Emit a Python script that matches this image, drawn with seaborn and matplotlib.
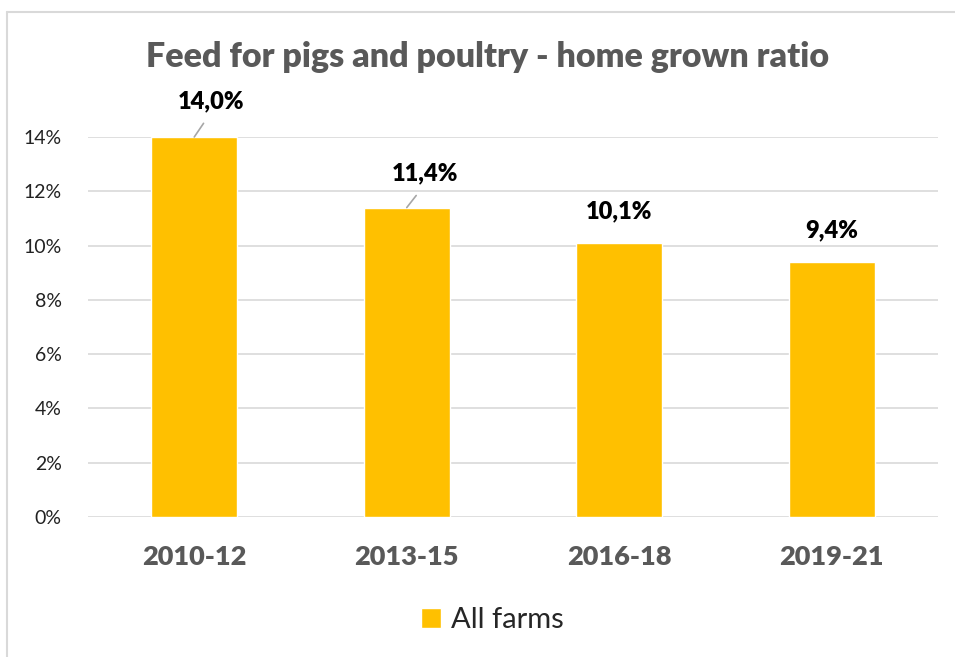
import matplotlib
matplotlib.use('Agg')
import matplotlib.pyplot as plt
import seaborn as sns
import pandas as pd
from matplotlib.lines import Line2D
from matplotlib.ticker import PercentFormatter

periods = ['2010-12', '2013-15', '2016-18', '2019-21']
home_grown = [14.0, 11.4, 10.1, 9.4]
series_name = 'All farms'
title = 'Feed for pigs and poultry - home grown ratio'

YELLOW = '#FFC000'
GRAY = '#595959'

sns.set_theme(style='white')
plt.rcParams['font.family'] = ['Lato', 'DejaVu Sans']

df = pd.DataFrame({'period': periods, 'ratio': home_grown})

fig = plt.figure(figsize=(9.55, 6.57), dpi=100)
ax = fig.add_axes([88 / 955, 1 - 517 / 657, 850 / 955, 380 / 657])

sns.barplot(data=df, x='period', y='ratio', color=YELLOW, width=0.405,
            saturation=1, label=series_name, ax=ax)
handles, labels = ax.get_legend_handles_labels()
if ax.get_legend() is not None:
    ax.get_legend().remove()

ax.set_ylim(0, 14)
ax.set_xlim(-0.5, len(periods) - 0.5)
ax.set_yticks(range(0, 15, 2))
ax.yaxis.set_major_formatter(PercentFormatter(decimals=0))
ax.yaxis.grid(True, color='#D9D9D9', linewidth=1.2)
ax.set_axisbelow(True)
for s in ax.spines.values():
    s.set_visible(False)
ax.set_xlabel('')
ax.set_ylabel('')
ax.tick_params(axis='y', labelsize=14, labelcolor='#222222', pad=19, length=0)
ax.tick_params(axis='x', labelsize=19.5, labelcolor=GRAY, pad=20, length=0)
for lbl in ax.get_xticklabels():
    lbl.set_fontweight('heavy')

# data labels (first two sit off to the side with leader lines)
offsets = [(17, 25), (18, 23), (0, 21), (0, 21)]
for i, v in enumerate(home_grown):
    dx, dy = offsets[i]
    txt = f'{v:.1f}%'.replace('.', ',')
    arrow = None
    if dx:
        arrow = dict(arrowstyle='-', color='#A6A6A6', lw=1.2,
                     shrinkA=7, shrinkB=0, relpos=(0.5, 0))
    ax.annotate(txt, xy=(i, v), xytext=(dx, dy), textcoords='offset pixels',
                ha='center', va='bottom', fontsize=17, fontweight='heavy',
                color='black', arrowprops=arrow, annotation_clip=False)

fig.text(487.5 / 955, 1 - 57 / 657, title, ha='center', va='center',
         fontsize=24.5, fontweight='heavy', color=GRAY)

fig.legend(handles=handles, labels=labels, loc='center',
           bbox_to_anchor=(492.5 / 955, 1 - 620 / 657), frameon=False,
           fontsize=21, handlelength=0.7, handleheight=0.7,
           handletextpad=0.35)

# chart border
fig.add_artist(Line2D([7 / 955, 7 / 955], [0, 1 - 12 / 657],
                      transform=fig.transFigure, color='#D9D9D9', lw=1.5))
fig.add_artist(Line2D([7 / 955, 1], [1 - 12 / 657, 1 - 12 / 657],
                      transform=fig.transFigure, color='#D9D9D9', lw=1.5))

fig.savefig('out.png', dpi=100)
